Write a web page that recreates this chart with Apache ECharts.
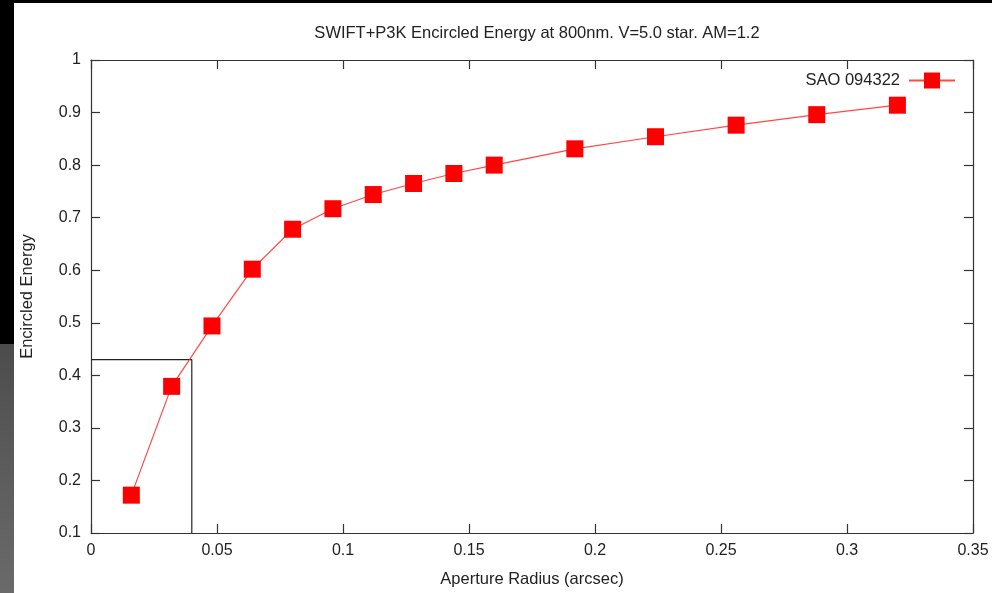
<!DOCTYPE html>
<html>
<head>
<meta charset="utf-8">
<title>SWIFT+P3K Encircled Energy</title>
<script src="https://cdn.jsdelivr.net/npm/echarts@6/dist/echarts.min.js"></script>
<style>
  html, body { margin: 0; padding: 0; background: #fff; }
  #chart { width: 992px; height: 593px; }
</style>
</head>
<body>
<div id="chart"></div>
<script>
// Aperture radii (arcsec) and measured encircled energy for SAO 094322
const apertureRadius = [0.016, 0.032, 0.048, 0.064, 0.080, 0.096, 0.112, 0.128, 0.144, 0.160, 0.192, 0.224, 0.256, 0.288, 0.320];
const encircledEnergy = [0.172, 0.379, 0.494, 0.602, 0.678, 0.717, 0.744, 0.765, 0.784, 0.800, 0.831, 0.854, 0.876, 0.896, 0.914];

// Reference box marking the radius where 43% of the energy is enclosed
const boxRadius = 0.04;
const boxEnergy = 0.43;

// Axis ranges and tick steps
const xRange = [0, 0.35], xStep = 0.05;
const yRange = [0.1, 1], yStep = 0.1;

const seriesName = 'SAO 094322';
const titleText = 'SWIFT+P3K Encircled Energy at 800nm. V=5.0 star. AM=1.2';

const FONT = '"Liberation Sans", Arial, sans-serif';
const axisColor = '#333';
const textColor = '#222';

const chart = echarts.init(document.getElementById('chart'), null, { renderer: 'canvas' });

const fmt = v => String(+v.toFixed(2));

const baseAxis = {
  axisLine: { show: true, onZero: false, lineStyle: { color: axisColor, width: 1.2 } },
  axisTick: { show: true, inside: true, length: 9, lineStyle: { color: axisColor, width: 1.2 } },
  splitLine: { show: false }
};

chart.setOption({
  backgroundColor: '#fff',
  animation: false,
  title: {
    text: titleText,
    left: 532, top: 20, textAlign: 'center',
    textStyle: { fontFamily: FONT, fontSize: 16.5, fontWeight: 'normal', color: textColor }
  },
  legend: {
    data: [seriesName],
    right: 31, top: 67,
    align: 'right',
    itemWidth: 46, itemHeight: 20, itemGap: 6,
    textStyle: { fontFamily: FONT, fontSize: 16.5, color: textColor, padding: [0, 4, 0, 0] }
  },
  grid: { left: 91, right: 19, top: 60, bottom: 59, containLabel: false },
  xAxis: [
    Object.assign({}, baseAxis, {
      type: 'value', min: xRange[0], max: xRange[1], interval: xStep,
      position: 'bottom',
      name: 'Aperture Radius (arcsec)', nameLocation: 'middle', nameGap: 38,
      nameTextStyle: { fontFamily: FONT, fontSize: 16.5, color: textColor },
      axisLabel: { fontFamily: FONT, fontSize: 16, color: textColor, margin: 10, formatter: fmt }
    }),
    Object.assign({}, baseAxis, {
      type: 'value', min: xRange[0], max: xRange[1], interval: xStep,
      position: 'top', axisLabel: { show: false }
    })
  ],
  yAxis: [
    Object.assign({}, baseAxis, {
      type: 'value', min: yRange[0], max: yRange[1], interval: yStep,
      position: 'left',
      name: 'Encircled Energy', nameLocation: 'middle', nameGap: 55,
      nameTextStyle: { fontFamily: FONT, fontSize: 16.5, color: textColor },
      axisLabel: { fontFamily: FONT, fontSize: 16, color: textColor, margin: 10, formatter: fmt }
    }),
    Object.assign({}, baseAxis, {
      type: 'value', min: yRange[0], max: yRange[1], interval: yStep,
      position: 'right', axisLabel: { show: false }
    })
  ],
  series: [
    {
      name: 'box',
      type: 'line',
      xAxisIndex: 0, yAxisIndex: 0,
      data: [[xRange[0], boxEnergy], [boxRadius, boxEnergy], [boxRadius, yRange[0]]],
      showSymbol: false, symbol: 'none',
      lineStyle: { color: '#222', width: 1.2 },
      silent: true, z: 1
    },
    {
      name: seriesName,
      type: 'line',
      xAxisIndex: 0, yAxisIndex: 0,
      data: apertureRadius.map((r, i) => [r, encircledEnergy[i]]),
      symbol: 'rect', symbolSize: 17,
      itemStyle: { color: '#ff0000', opacity: 1 },
      lineStyle: { color: 'rgba(255,40,40,0.85)', width: 1.2 },
      z: 3
    }
  ],
  graphic: [
    { type: 'rect', shape: { x: 0, y: 0, width: 992, height: 3 }, style: { fill: '#000' }, silent: true },
    { type: 'rect', shape: { x: 0, y: 0, width: 14, height: 344 }, style: { fill: '#000' }, silent: true },
    {
      type: 'rect', shape: { x: 0, y: 344, width: 14, height: 249 }, silent: true,
      style: {
        fill: new echarts.graphic.LinearGradient(0, 0, 0, 1, [
          { offset: 0, color: '#4c4c4c' },
          { offset: 0.4, color: '#595959' },
          { offset: 1, color: '#6a6a6a' }
        ])
      }
    }
  ]
});
</script>
</body>
</html>
